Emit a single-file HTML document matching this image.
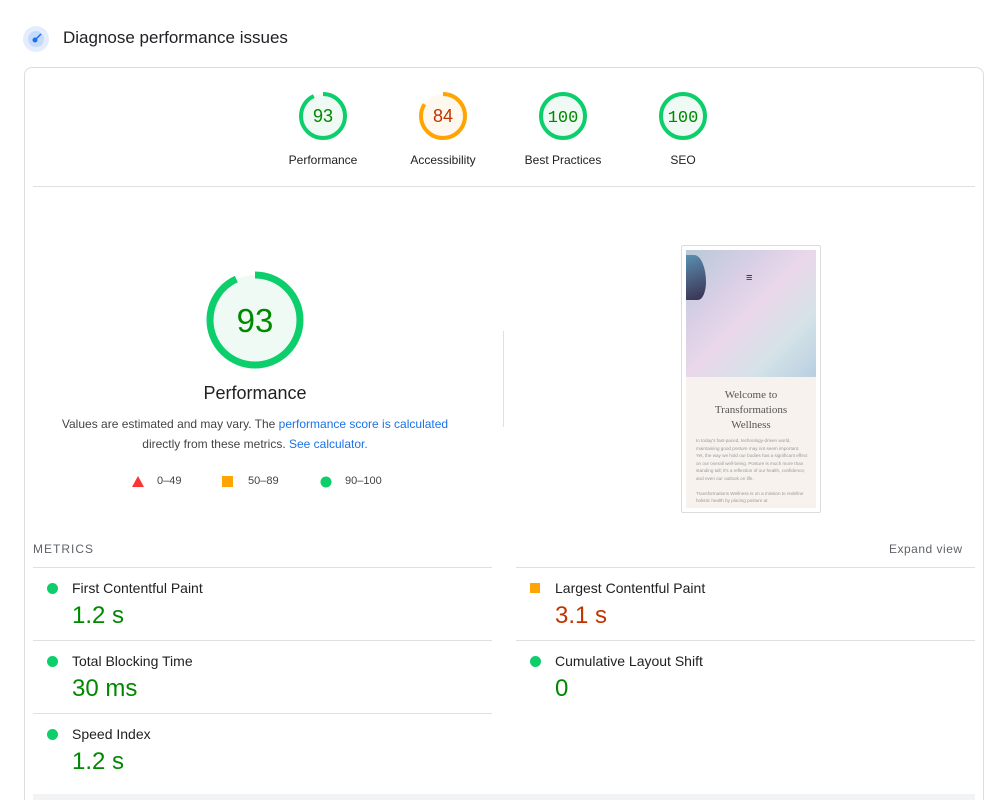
<!DOCTYPE html>
<html><head><style>
html,body{margin:0;width:1000px;height:800px;overflow:hidden}
body{background:#fff;font-family:"Liberation Sans",Arial,sans-serif;color:#212121;position:relative}
.a{position:absolute}
.c{text-align:center}
.hl{position:absolute;height:1px;background:#e0e0e0}
.lbl{font-size:14px;color:#212121}
.val{font-size:24px}
.dot{position:absolute;width:11px;height:11px;border-radius:50%;background:#0cce6b}
</style></head><body>
<svg class="a" style="left:22px;top:25px" width="28" height="28"><circle cx="14" cy="14" r="13" fill="#e3edfd"/><circle cx="14" cy="14" r="8" fill="#c6dafc"/><circle cx="13" cy="15" r="2.5" fill="#1a73e8"/><path d="M13 15 L19 9" stroke="#1a73e8" stroke-width="1.5"/></svg>
<div class="a" style="left:63px;top:28px;font-size:17px;color:#202124">Diagnose performance issues</div>
<div class="a" style="left:24px;top:67px;width:958px;height:760px;border:1px solid #dadce0;border-radius:8px"></div>

<svg class="a" style="left:0;top:0" width="1000" height="800">
<g font-family="Liberation Mono,monospace" font-size="17" text-anchor="middle">
<circle cx="323" cy="116" r="22" fill="#eefaf3" stroke="#0cce6b" stroke-width="4" stroke-dasharray="128.5 9.7" transform="rotate(-90 323 116)"/>
<text x="323" y="122" fill="#008800" font-family="Liberation Sans,sans-serif" font-size="18">93</text>
<circle cx="443" cy="116" r="22" fill="#fff8ee" stroke="#ffa400" stroke-width="4" stroke-dasharray="116 22.2" transform="rotate(-90 443 116)"/>
<text x="443" y="122" fill="#c33300" font-family="Liberation Sans,sans-serif" font-size="18">84</text>
<circle cx="563" cy="116" r="22" fill="#eefaf3" stroke="#0cce6b" stroke-width="4"/>
<text x="563" y="122" fill="#008800">100</text>
<circle cx="683" cy="116" r="22" fill="#eefaf3" stroke="#0cce6b" stroke-width="4"/>
<text x="683" y="122" fill="#008800">100</text>
</g>
<g font-family="Liberation Sans,sans-serif" font-size="12" text-anchor="middle" fill="#212121">
<text x="323" y="164">Performance</text><text x="443" y="164">Accessibility</text><text x="563" y="164">Best Practices</text><text x="683" y="164">SEO</text>
</g>
<circle cx="255" cy="320" r="45" fill="#eefaf3" stroke="#0cce6b" stroke-width="7" stroke-dasharray="263 20" transform="rotate(-90 255 320)"/>
<text x="255" y="332" font-family="Liberation Sans,sans-serif" font-size="33" fill="#008800" text-anchor="middle">93</text>
<polygon points="138,476 144,487 132,487" fill="#ff3333"/>
<rect x="222" y="476" width="11" height="11" fill="#ffa400"/>
<circle cx="326" cy="482" r="5.5" fill="#0cce6b"/>
<rect x="530" y="583" width="10" height="10" fill="#ffa400"/>
</svg>
<div class="hl" style="left:33px;top:186px;width:942px"></div>
<div class="a c" style="left:105px;top:383px;width:300px;font-size:18px">Performance</div>
<div class="a c" style="left:40px;top:414px;width:430px;font-size:12px;line-height:20px;color:#444">Values are estimated and may vary. The <span style="color:#1a73e8">performance score is calculated</span><br>directly from these metrics. <span style="color:#1a73e8">See calculator.</span></div>
<div class="a" style="left:157px;top:475px;font-size:11px;color:#444">0–49</div>
<div class="a" style="left:248px;top:475px;font-size:11px;color:#444">50–89</div>
<div class="a" style="left:345px;top:475px;font-size:11px;color:#444">90–100</div>
<div class="a" style="left:503px;top:331px;width:1px;height:96px;background:#e0e0e0"></div>

<div class="a" style="left:681px;top:245px;width:138px;height:266px;border:1px solid #dadce0;border-radius:2px;background:#fff"></div>
<div class="a" style="left:686px;top:250px;width:130px;height:127px;background:linear-gradient(135deg,#b8c9d6 0%,#d8cfe6 30%,#ead8ea 50%,#d4e2e8 75%,#b8cfe0 100%)"></div>
<div class="a" style="left:686px;top:255px;width:20px;height:45px;background:linear-gradient(160deg,#5a8fb0,#3a2f50);border-radius:0 60% 40% 0"></div>
<div class="a" style="left:746px;top:272px;font-size:11px;color:#222">≡</div>
<div class="a" style="left:686px;top:377px;width:130px;height:131px;background:#f7f2ee"></div>
<div class="a c" style="left:686px;top:388px;width:130px;font-family:'Liberation Serif',serif;font-size:11px;line-height:15px;color:#555">Welcome to<br>Transformations<br>Wellness</div>
<div class="a" style="left:696px;top:437px;width:112px;font-size:4.6px;line-height:7.5px;color:#999">In today's fast-paced, technology-driven world, maintaining good posture may not seem important. Yet, the way we hold our bodies has a significant effect on our overall well-being. Posture is much more than standing tall; it's a reflection of our health, confidence, and even our outlook on life.<br><br>Transformations Wellness is on a mission to redefine holistic health by placing posture at</div>

<div class="a" style="left:33px;top:542px;font-size:12px;letter-spacing:1px;color:#5f6368">METRICS</div>
<div class="a" style="left:889px;top:542px;font-size:12px;letter-spacing:.5px;color:#5f6368">Expand view</div>
<div class="hl" style="left:33px;top:567px;width:459px"></div>
<div class="hl" style="left:33px;top:640px;width:459px"></div>
<div class="hl" style="left:33px;top:713px;width:459px"></div>
<div class="hl" style="left:516px;top:567px;width:459px"></div>
<div class="hl" style="left:516px;top:640px;width:459px"></div>

<div class="dot" style="left:47px;top:583px"></div>
<div class="a lbl" style="left:72px;top:580px">First Contentful Paint</div>
<div class="a val" style="left:72px;top:602px;color:#008800">1.2 s</div>
<div class="dot" style="left:47px;top:656px"></div>
<div class="a lbl" style="left:72px;top:653px">Total Blocking Time</div>
<div class="a val" style="left:72px;top:675px;color:#008800">30 ms</div>
<div class="dot" style="left:47px;top:729px"></div>
<div class="a lbl" style="left:72px;top:726px">Speed Index</div>
<div class="a val" style="left:72px;top:748px;color:#008800">1.2 s</div>

<div class="a lbl" style="left:555px;top:580px">Largest Contentful Paint</div>
<div class="a val" style="left:555px;top:602px;color:#c33300">3.1 s</div>
<div class="dot" style="left:530px;top:656px"></div>
<div class="a lbl" style="left:555px;top:653px">Cumulative Layout Shift</div>
<div class="a val" style="left:555px;top:675px;color:#008800">0</div>
<div class="a" style="left:33px;top:794px;width:942px;height:10px;background:#f1f3f4"></div>
</body></html>
